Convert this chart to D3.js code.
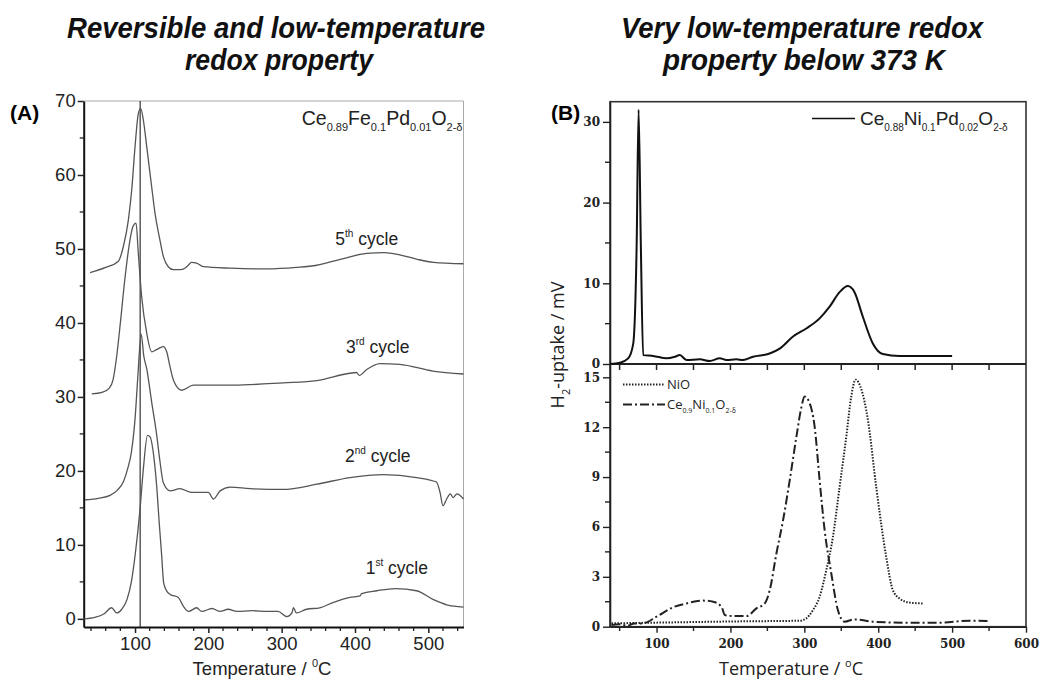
<!DOCTYPE html>
<html><head><meta charset="utf-8">
<script src="https://cdn.jsdelivr.net/npm/d3@7"></script>
<style>
body{margin:0;background:#fff;}
svg{display:block;}
</style></head>
<body><svg id="c" width="1040" height="681"></svg>
<script>
// ---------- DATA ----------
// Panel A: TPR cycles of Ce0.89Fe0.1Pd0.01O2-δ (Temperature °C, signal)
const cycle1 = [[30,0],[45,0.2],[58,0.7],[68,1.5],[75,0.8],[82,1.3],[89,2.6],[95,5],[100,8.5],[106.8,14.8],[111.4,20.3],[117,24.8],[120.5,24.6],[126,21.6],[129.5,18],[133,13],[136.4,8.5],[139,4.9],[143,3.8],[148,3.3],[159,2.9],[166,1.7],[173,1],[184,1.5],[191,1],[205,1.4],[216,1],[227,1.3],[239,1],[260,1.1],[280,1],[295,1],[307,0.3],[314,0.8],[316,1.5],[320,0.8],[334,1.3],[352,1.5],[370,2.2],[393,2.9],[407,3.1],[409,3.4],[430,3.8],[455,4.1],[484,3.8],[507,2.6],[525,1.9],[548,1.6]];
const cycle2 = [[32,16.1],[50,16.3],[66,16.7],[76,17.4],[84,18.5],[90,20.3],[95,22.5],[100,27],[104,33],[108.3,38.5],[112,35.5],[116,33.8],[122.7,29.3],[129.5,24.9],[134,21.3],[138.6,18.4],[148,17.3],[161,17.6],[177,17.1],[200,17.1],[207,16.2],[216,17.3],[230,17.8],[257,17.6],[302,17.5],[348,18.2],[393,19.1],[439,19.5],[484,19.1],[511,18.5],[516,17.1],[520,15.3],[525,16.2],[530,16.9],[534,16.4],[539,16.9],[548,16.2]];
const cycle3 = [[41,30.4],[55,30.6],[65,31.2],[70,32.3],[75,35.5],[80,40],[86,45.8],[92,50.5],[97,53],[101.4,53.5],[104.5,49.4],[109,43.6],[116,38.6],[122.7,36.1],[129.5,36.4],[138.6,36.8],[143.2,36.1],[147.7,34.1],[152.3,32.3],[163.6,30.9],[179.5,31.6],[234,31.6],[302,31.9],[348,32.2],[393,33.2],[402,33.3],[406,32.9],[416,33.7],[434,34.5],[461,34.4],[506,33.5],[548,33.1]];
const cycle5 = [[38.6,46.8],[60,47.5],[77,48.3],[84,50.3],[90.9,53.9],[95.5,58],[100,63.8],[104.5,68.3],[107.7,69],[111.4,67.4],[116,63.8],[122.7,58.4],[127.3,54.8],[134,51.2],[138.6,49],[145.4,47.6],[152.3,47.2],[161.4,47.2],[168,47.4],[172.6,47.8],[177,48.2],[184,48.1],[193,47.6],[230,47.4],[279.5,47.3],[320,47.5],[348,47.8],[380,48.6],[416,49.4],[440,49.5],[461,49.2],[485,48.6],[507,48.2],[548,48]];
const markerTempA = 107;
const cycleLabels = [
  {n:"5", s:"th", x:416, y:50.5},
  {n:"3", s:"rd", x:431, y:35.9},
  {n:"2", s:"nd", x:431, y:21.2},
  {n:"1", s:"st", x:457, y:6.1}
];
// Panel B top: Ce0.88Ni0.1Pd0.02O2-δ
const cePdNi = [[37,0],[50.5,0.16],[61.6,0.7],[68.4,2.5],[73,14.4],[75.7,31.5],[78.8,14.4],[81.9,1.1],[95.5,1.0],[113.5,0.7],[125,0.9],[131.5,1.1],[140.5,0.5],[158.6,0.58],[172.1,0.37],[185.6,0.7],[194.6,0.5],[208,0.58],[217,0.5],[230.6,0.9],[253,1.3],[266.7,1.9],[284.7,3.4],[302.7,4.4],[320.7,5.65],[334.2,7.1],[347.7,8.9],[358.9,9.65],[367.9,8.9],[379.2,5.85],[392.7,2.55],[406.2,1.24],[428.7,1.0],[500,1.0]];
// Panel B bottom: NiO and Ce0.9Ni0.1O2-δ
const nio = [[39,0.2],[122,0.26],[212,0.32],[293.6,0.36],[302.6,0.5],[311.7,1.0],[320.7,1.8],[329.7,3.4],[338.7,5.4],[347.7,8.4],[356.7,11.4],[363.5,13.85],[369.3,14.86],[377,14.3],[386,12.45],[397.3,8.4],[410.8,4.2],[419.8,2.2],[428.8,1.7],[442.3,1.45],[460,1.4]];
const ceNi = [[39,0.1],[50,0.15],[60,0.05],[70,0.2],[81,0.2],[100,0.6],[122.5,1.17],[140.5,1.4],[163,1.57],[176.6,1.5],[187.9,1.2],[192.4,0.7],[203.6,0.64],[221.7,0.64],[235.2,1.1],[246.4,1.4],[253.2,2.2],[262.2,4.4],[271.2,6.4],[280.2,8.8],[289.2,11.4],[296,13.2],[300.4,13.85],[307.2,13.45],[313.9,12.05],[320.7,8.8],[327.5,5.8],[336.5,3.2],[345.4,1.0],[354.5,0.3],[368,0.44],[392.7,0.3],[437.8,0.24],[482.9,0.24],[523.5,0.36],[548,0.34]];
const ticksAX = [100,200,300,400,500];
const ticksAY = [0,10,20,30,40,50,60,70];
const ticksBX = [100,200,300,400,500,600];
const ticksBTopY = [0,10,20,30];
const ticksBBotY = [0,3,6,9,12,15];

// ---------- DRAW ----------
const svg = d3.select("#c");
const sans = "'Liberation Sans', Arial, sans-serif";
const openS = "'Open Sans', 'Noto Sans', sans-serif";
const serifB = "'DejaVu Serif', serif";

function title(x, y, txt, len){
  svg.append("text").attr("x", x).attr("y", y).attr("text-anchor","middle")
    .attr("font-family", sans).attr("font-weight","bold").attr("font-style","italic")
    .attr("font-size", 30).attr("textLength", len).attr("lengthAdjust","spacingAndGlyphs")
    .attr("fill","#111").text(txt);
}
title(276, 38, "Reversible and low-temperature", 418);
title(279, 70, "redox property", 188);
title(802, 38, "Very low-temperature redox", 362);
title(804, 70, "property below 373 K", 282);

svg.append("text").attr("x",10).attr("y",120).attr("font-family",sans).attr("font-weight","bold").attr("font-size",21).text("(A)");
svg.append("text").attr("x",551).attr("y",120).attr("font-family",sans).attr("font-weight","bold").attr("font-size",21).text("(B)");

function rich(g, x, y, parts, size, subSize, family, anchor){
  const t = g.append("text").attr("x",x).attr("y",y).attr("font-family",family)
    .attr("font-size",size).attr("fill","#222");
  if(anchor) t.attr("text-anchor",anchor);
  let state = "n";
  parts.forEach(p=>{
    const [s, k] = p;
    const ts = t.append("tspan").text(s);
    const target = k==="sub" ? size*0.32 : (k==="sup" ? -size*0.45 : 0);
    const cur = state==="sub" ? size*0.32 : (state==="sup" ? -size*0.45 : 0);
    const dy = target - cur;
    if(dy!==0) ts.attr("dy", dy);
    if(k!=="n") ts.attr("font-size", subSize);
    state = k;
  });
  return t;
}

// ---------- Panel A ----------
const ax = d3.scaleLinear().domain([30,548]).range([83.7,463.5]);
const ay = d3.scaleLinear().domain([-1.1,70]).range([627,101]);
const gA = svg.append("g");
gA.append("path").attr("d",`M${ax(30)},${ay(70)}H${ax(548)}V${ay(-1.1)}`)
  .attr("fill","none").attr("stroke","#aaa").attr("stroke-width",1);
const axMinor = d3.range(40,548,20).filter(v=>v%100!==0);
gA.selectAll(".mx").data(axMinor).join("line").attr("x1",d=>ax(d)).attr("x2",d=>ax(d))
  .attr("y1",ay(-1.1)).attr("y2",ay(-1.1)+4).attr("stroke","#222").attr("stroke-width",1.3);
const ayMinor = d3.range(5,70,10);
gA.selectAll(".my").data(ayMinor).join("line").attr("x1",ax(30)).attr("x2",ax(30)-4)
  .attr("y1",d=>ay(d)).attr("y2",d=>ay(d)).attr("stroke","#222").attr("stroke-width",1.3);
const gax = gA.append("g").attr("transform",`translate(0,${ay(-1.1)})`)
  .call(d3.axisBottom(ax).tickValues(ticksAX).tickSize(6).tickPadding(4).tickSizeOuter(0));
gax.select(".domain").attr("stroke","#111").attr("stroke-width",2);
gax.selectAll(".tick line").attr("stroke","#222").attr("stroke-width",1.5);
gax.selectAll("text").attr("font-family",sans).attr("font-size",18.5).attr("fill","#222");
const gay = gA.append("g").attr("transform",`translate(${ax(30)},0)`)
  .call(d3.axisLeft(ay).tickValues(ticksAY).tickSize(6).tickPadding(2).tickSizeOuter(0));
gay.select(".domain").attr("stroke","#111").attr("stroke-width",2);
gay.selectAll(".tick line").attr("stroke","#222").attr("stroke-width",1.5);
gay.selectAll("text").attr("font-family",sans).attr("font-size",18.5).attr("fill","#222");
gA.append("line").attr("x1",ax(markerTempA)).attr("x2",ax(markerTempA))
  .attr("y1",ay(-1.1)).attr("y2",ay(70)).attr("stroke","#333").attr("stroke-width",1.2);
const lineA = d3.line().x(d=>ax(d[0])).y(d=>ay(d[1])).curve(d3.curveMonotoneX);
[cycle1,cycle2,cycle3,cycle5].forEach(s=>{
  gA.append("path").attr("d",lineA(s)).attr("fill","none").attr("stroke","#555").attr("stroke-width",1.3);
});
cycleLabels.forEach(l=>{
  rich(gA, ax(l.x), ay(l.y), [[l.n,"n"],[l.s,"sup"],[" cycle","n"]], 17.5, 10, sans, "middle");
});
rich(gA, ax(548)-1, 125, [["Ce","n"],["0.89","sub"],["Fe","n"],["0.1","sub"],["Pd","n"],["0.01","sub"],["O","n"],["2-δ","sub"]], 19.5, 11, sans, "end");
rich(gA, 262, 675, [["Temperature / ","n"],["0","sup"],["C","n"]], 18.5, 11, sans, "middle");

// ---------- Panel B ----------
const bx = d3.scaleLinear().domain([37,600]).range([610,1026]);
const byT = d3.scaleLinear().domain([0,32.5]).range([364,101.7]);
const byB = d3.scaleLinear().domain([0,15.8]).range([626.7,364]);
const gB = svg.append("g");
gB.append("rect").attr("x",610).attr("y",101.7).attr("width",416).attr("height",525)
  .attr("fill","none").attr("stroke","#333").attr("stroke-width",1.6);
gB.append("line").attr("x1",610).attr("x2",1026).attr("y1",364).attr("y2",364).attr("stroke","#222").attr("stroke-width",2);
gB.selectAll(".tt").data(d3.range(50,600,50)).join("line")
  .attr("x1",d=>bx(d)).attr("x2",d=>bx(d)).attr("y1",364).attr("y2",370).attr("stroke","#222").attr("stroke-width",1.5);
const bMinor = d3.range(50,600,100);
gB.selectAll(".bm").data(bMinor).join("line").attr("x1",d=>bx(d)).attr("x2",d=>bx(d))
  .attr("y1",626.7).attr("y2",631).attr("stroke","#222").attr("stroke-width",1.4);
const gbx = gB.append("g").attr("transform","translate(0,626.7)")
  .call(d3.axisBottom(bx).tickValues(ticksBX).tickSize(6).tickPadding(7).tickSizeOuter(0));
gbx.select(".domain").attr("stroke","#222").attr("stroke-width",1.6);
gbx.selectAll(".tick line").attr("stroke","#222").attr("stroke-width",1.4);
gbx.selectAll("text").attr("font-family",serifB).attr("font-weight","bold").attr("font-size",12).attr("fill","#222");
gB.selectAll(".tym").data([5,15,25]).join("line").attr("x1",610).attr("x2",605)
  .attr("y1",d=>byT(d)).attr("y2",d=>byT(d)).attr("stroke","#222").attr("stroke-width",1.4);
const gbt = gB.append("g").attr("transform","translate(610,0)")
  .call(d3.axisLeft(byT).tickValues(ticksBTopY).tickSize(7).tickPadding(3).tickSizeOuter(0));
gbt.select(".domain").attr("stroke","#222").attr("stroke-width",1.6);
gbt.selectAll(".tick line").attr("stroke","#222").attr("stroke-width",1.4);
gbt.selectAll("text").attr("font-family",serifB).attr("font-weight","bold").attr("font-size",12).attr("fill","#222");
gB.selectAll(".bym").data([1.5,4.5,7.5,10.5,13.5]).join("line").attr("x1",610).attr("x2",605)
  .attr("y1",d=>byB(d)).attr("y2",d=>byB(d)).attr("stroke","#222").attr("stroke-width",1.4);
const gbb = gB.append("g").attr("transform","translate(610,0)")
  .call(d3.axisLeft(byB).tickValues(ticksBBotY).tickSize(7).tickPadding(3).tickSizeOuter(0));
gbb.select(".domain").attr("stroke","#222").attr("stroke-width",1.6);
gbb.selectAll(".tick line").attr("stroke","#222").attr("stroke-width",1.4);
gbb.selectAll("text").attr("font-family",serifB).attr("font-weight","bold").attr("font-size",12).attr("fill","#222");

const lineBT = d3.line().x(d=>bx(d[0])).y(d=>byT(d[1])).curve(d3.curveMonotoneX);
const lineBB = d3.line().x(d=>bx(d[0])).y(d=>byB(d[1])).curve(d3.curveMonotoneX);
gB.append("path").attr("d",lineBT(cePdNi)).attr("fill","none").attr("stroke","#111").attr("stroke-width",2);
gB.append("path").attr("d",lineBB(nio)).attr("fill","none").attr("stroke","#222").attr("stroke-width",2).attr("stroke-dasharray","1.5,1.5");
gB.append("path").attr("d",lineBB(ceNi)).attr("fill","none").attr("stroke","#222").attr("stroke-width",2).attr("stroke-dasharray","9,3,2,3");

gB.append("line").attr("x1",812).attr("x2",855).attr("y1",118.5).attr("y2",118.5).attr("stroke","#111").attr("stroke-width",1.6);
rich(gB, 860, 125, [["Ce","n"],["0.88","sub"],["Ni","n"],["0.1","sub"],["Pd","n"],["0.02","sub"],["O","n"],["2-δ","sub"]], 19, 10, sans, null);
gB.append("line").attr("x1",623).attr("x2",665).attr("y1",384.5).attr("y2",384.5).attr("stroke","#222").attr("stroke-width",2).attr("stroke-dasharray","1.5,1.5");
gB.append("line").attr("x1",623).attr("x2",665).attr("y1",404.5).attr("y2",404.5).attr("stroke","#222").attr("stroke-width",2).attr("stroke-dasharray","9,3,2,3");
rich(gB, 667, 389, [["NiO","n"]], 13, 8, openS, null);
rich(gB, 667, 409, [["Ce","n"],["0.9","sub"],["Ni","n"],["0.1","sub"],["O","n"],["2-δ","sub"]], 13, 7, openS, null);
rich(gB, 791, 675, [["Temperature / ","n"],["o","sup"],["C","n"]], 18, 11, openS, "middle");
const yl = rich(gB, 0, 0, [["H","n"],["2","sub"],["-uptake / mV","n"]], 18, 11, openS, "middle");
yl.attr("transform","translate(564,345) rotate(-90)");
</script></body></html>
